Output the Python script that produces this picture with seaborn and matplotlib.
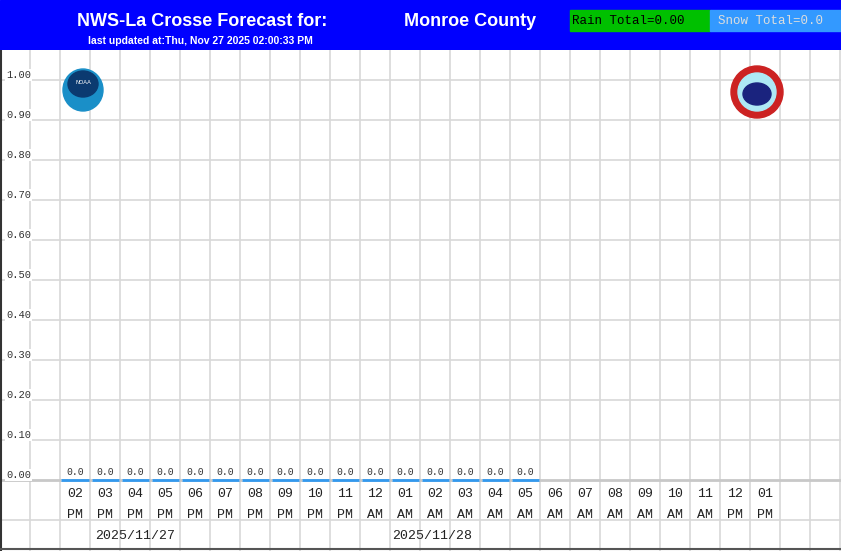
import matplotlib
matplotlib.use("Agg")
import matplotlib.pyplot as plt
import seaborn as sns
import numpy as np
from matplotlib.patches import Rectangle, Ellipse

sns.set_theme(style="white")
plt.rcParams['font.family'] = ['DejaVu Sans']

hours = ["02","03","04","05","06","07","08","09","10","11","12","01",
         "02","03","04","05","06","07","08","09","10","11","12","01"]
ampm = ["PM"]*10 + ["AM"]*12 + ["PM"]*2
precip = [0.0]*16
ytick_vals = [0.0,0.1,0.2,0.3,0.4,0.5,0.6,0.7,0.8,0.9,1.0]
dates = ["2025/11/27", "2025/11/28"]
title = "NWS-La Crosse Forecast for:"
county = "Monroe County"
updated = "last updated at:Thu, Nov 27 2025 02:00:33 PM"
rain_total = "Rain Total=0.00"
snow_total = "Snow Total=0.0"

W, H = 841, 551
fig = plt.figure(figsize=(W/100, H/100), dpi=100)
fig.patch.set_facecolor("white")

hdr = fig.add_axes([0, 1-50/H, 1, 50/H])
hdr.set_xlim(0, W); hdr.set_ylim(50, 0); hdr.axis("off")
hdr.add_patch(Rectangle((0, 0), W, 50, color="#0000ff"))
hdr.add_patch(Rectangle((570, 10), 140, 21, color="#00c000"))
hdr.add_patch(Rectangle((710, 10), 131, 21, color="#3399ff"))
nar = ['Liberation Sans Narrow', 'Liberation Sans', 'DejaVu Sans']
hdr.text(202, 21, title, color="white", fontsize=13, fontweight="bold", family=nar, ha="center", va="center")
hdr.text(470, 21, county, color="white", fontsize=13, fontweight="bold", family=nar, ha="center", va="center")
hdr.text(200, 41, updated, color="white", fontsize=7.5, fontweight="bold", family=nar, ha="center", va="center")
mono = ['Liberation Mono', 'DejaVu Sans Mono']
hdr.text(572, 20.5, rain_total, color="black", fontsize=9, family=mono, ha="left", va="center")
hdr.text(718, 20.5, snow_total, color="#dddddd", fontsize=9, family=mono, ha="left", va="center")

ax = fig.add_axes([0, 0, 1, 1-50/H])
ax.set_xlim(0, W/30)
ax.set_ylim(-(H-480)/400, (480-50)/400)
for s in ax.spines.values():
    s.set_visible(False)
ax.set_xticks([]); ax.set_yticks([])
ax.set_facecolor("white")

for i in range(1, 29):
    ax.axvline(i, color="#d8d8d8", lw=1.2, zorder=0)
for v in ytick_vals[1:]:
    ax.axhline(v, color="#d8d8d8", lw=1.2, zorder=0)
ax.axhline(0, color="#c8c8c8", lw=2, zorder=0)
ax.axhline(-0.1, color="#d8d8d8", lw=1.2, zorder=0)
ax.axvline(0.02, color="#333333", lw=1.5)
ax.axhline(-(H-480)/400 + 0.004, color="#555555", lw=1.5)

for v in ytick_vals:
    ax.text(0.2, v + 0.0125, f"{v:.2f}", fontsize=7.5, family=mono, color="#333333", ha="left", va="center",
            bbox=dict(facecolor="white", edgecolor="none", pad=0.5))

xs = np.arange(len(precip)) + 2.5
ax.bar(xs, precip, width=0.9, color="#3399ee")
ax.hlines(precip, xs - 0.45, xs + 0.45, color="#3399ee", lw=2, zorder=3)
for x, p in zip(xs, precip):
    ax.text(x, p + 0.008, f"{p:.1f}", fontsize=7, family=mono, color="#333333", ha="center", va="bottom")

for i, (h, a) in enumerate(zip(hours, ampm)):
    x = i + 2.5
    ax.text(x, -(494-480)/400, h, fontsize=9.5, family=mono, ha="center", va="center", color="#222222")
    ax.text(x, -(515-480)/400, a, fontsize=9.5, family=mono, ha="center", va="center", color="#222222")
ax.text(135/30, -(536-480)/400, dates[0], fontsize=9.5, family=mono, ha="center", va="center", color="#222222")
ax.text(432/30, -(536-480)/400, dates[1], fontsize=9.5, family=mono, ha="center", va="center", color="#222222")

def px_ell(cx, cy, w, h, color, z):
    ax.add_patch(Ellipse((cx/30, (480-cy)/400), w/30, h/400, color=color, zorder=z))

px_ell(83, 90, 40, 42, "#1a8fc8", 4)
px_ell(83, 84, 30, 26, "#0b3a70", 5)
ax.text(83/30, (480-82)/400, "NOAA", fontsize=4, color="white", ha="center", va="center", zorder=6)
px_ell(757, 92, 52, 52, "#cc2222", 4)
px_ell(757, 92, 38, 38, "#aee8f5", 5)
px_ell(757, 94, 28, 22, "#1a237e", 6)

fig.savefig("out.png", dpi=100)
